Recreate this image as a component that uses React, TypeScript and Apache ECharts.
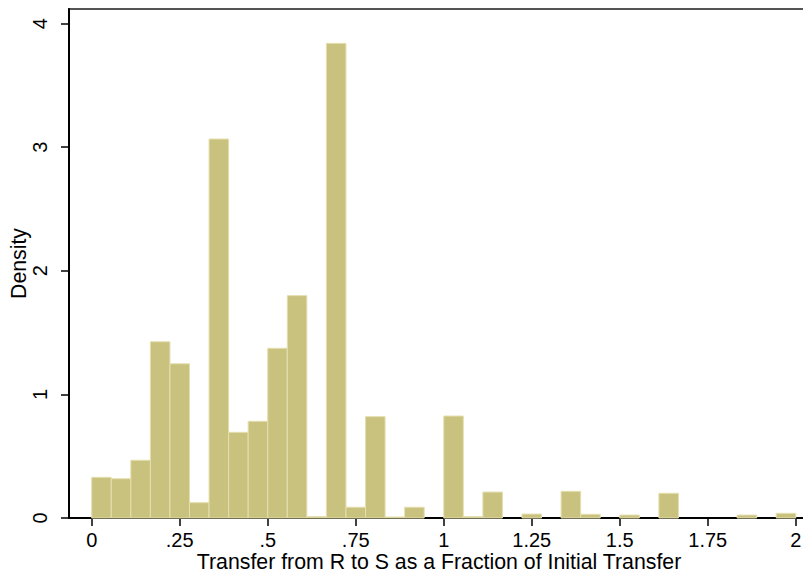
import React, { useEffect, useRef } from "react";
import * as echarts from "echarts";

// Histogram: 36 bins of equal width over [0, 2]
const binStart = 0;
const binEnd = 2;
const densities = [
  0.329, 0.318, 0.467, 1.426, 1.248, 0.124, 3.066, 0.693, 0.782, 1.373,
  1.799, 0.011, 3.84, 0.087, 0.82, 0.008, 0.087, 0, 0.825, 0.011,
  0.21, 0, 0.032, 0, 0.216, 0.03, 0, 0.024, 0, 0.2,
  0, 0, 0, 0.024, 0, 0.038,
];
const xTicks = [0, 0.25, 0.5, 0.75, 1, 1.25, 1.5, 1.75, 2];
const xTickLabels = ["0", ".25", ".5", ".75", "1", "1.25", "1.5", "1.75", "2"];
const yTicks = [0, 1, 2, 3, 4];
const xTitle = "Transfer from R to S as a Fraction of Initial Transfer";
const yTitle = "Density";

export default function App() {
  const ref = useRef<HTMLDivElement>(null);
  useEffect(() => {
    if (!ref.current) return;
    const chart = echarts.init(ref.current, null, { renderer: "svg" });
    const w = (binEnd - binStart) / densities.length;
    const data = densities.map((d, i) => [binStart + i * w, binStart + (i + 1) * w, d]);
    const font = "'Liberation Sans', Arial, sans-serif";
    chart.setOption({
      animation: false,
      backgroundColor: "#ffffff",
      grid: {
        left: 69,
        right: 2,
        top: 9,
        bottom: 60,
        show: true,
        borderColor: "#555555",
        borderWidth: 2,
        backgroundColor: "transparent",
        containLabel: false,
        outerBoundsMode: "none",
      },
      xAxis: {
        type: "value",
        min: -0.0645,
        max: 2.0375,
        name: xTitle,
        nameLocation: "middle",
        nameGap: 33,
        nameMoveOverlap: false,
        nameTextStyle: { fontFamily: font, fontSize: 21.3, color: "#000" },
        axisLine: { show: true, onZero: false, lineStyle: { color: "#000", width: 2 } },
        axisTick: {
          show: true,
          length: 8,
          customValues: xTicks,
          lineStyle: { color: "#000", width: 1.5 },
        },
        axisLabel: {
          customValues: xTicks,
          margin: 12,
          fontFamily: font,
          fontSize: 20,
          color: "#000",
          formatter: (v: number) => {
            const idx = xTicks.findIndex((t) => Math.abs(t - v) < 1e-9);
            return idx >= 0 ? xTickLabels[idx] : "";
          },
        },
        splitLine: { show: false },
      },
      yAxis: {
        type: "value",
        min: 0,
        max: 4.118,
        name: yTitle,
        nameLocation: "middle",
        nameGap: 40,
        nameRotate: 90,
        nameMoveOverlap: false,
        nameTextStyle: { fontFamily: font, fontSize: 21.3, color: "#000" },
        axisLine: { show: true, onZero: false, lineStyle: { color: "#000", width: 2 } },
        axisTick: {
          show: true,
          length: 8,
          customValues: yTicks,
          lineStyle: { color: "#000", width: 1.5 },
        },
        axisLabel: {
          customValues: yTicks,
          rotate: 90,
          margin: 19,
          fontFamily: font,
          fontSize: 20,
          color: "#000",
        },
        splitLine: { show: false },
      },
      series: [
        {
          type: "custom",
          data,
          encode: { x: [0, 1], y: 2 },
          renderItem: (params: any, api: any) => {
            const x0 = api.value(0);
            const x1 = api.value(1);
            const h = api.value(2);
            if (!(h > 0)) return null;
            const p0 = api.coord([x0, h]);
            const p1 = api.coord([x1, 0]);
            return {
              type: "rect",
              shape: { x: p0[0], y: p0[1], width: p1[0] - p0[0], height: p1[1] - p0[1] },
              style: { fill: "#c9c27f", stroke: "#e4dfae", lineWidth: 1 },
            };
          },
        },
      ],
    });
    return () => chart.dispose();
  }, []);
  return <div ref={ref} style={{ width: 811, height: 578, margin: -8 }} />;
}
